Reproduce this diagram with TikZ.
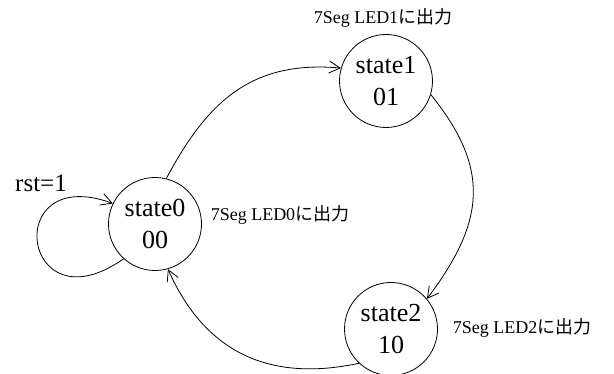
\documentclass[tikz,border=0pt]{standalone}
\usepackage{fontspec}
\setmainfont{Liberation Serif}
\newfontfamily\jp{Noto Sans CJK JP}
\usetikzlibrary{arrows.meta}
\begin{document}
\begin{tikzpicture}[x=1pt,y=1pt,
  statenode/.style={draw, circle, line width=0.8pt, minimum size=93pt, inner sep=0pt,
    align=center, font=\fontsize{26}{32}\selectfont},
  outlabel/.style={font=\fontsize{18}{20}\selectfont, inner sep=0pt},
  edge/.style={line width=0.8pt, -{Straight Barb[length=11pt,width=12pt,line width=0.8pt]}}]
\useasboundingbox (0,0) rectangle (614,374);
\node[statenode] (s0) at (155,150) {state0\\00};
\node[statenode] (s1) at (386,293) {state1\\01};
\node[statenode] (s2) at (391,45) {state2\\10};
\node[font=\fontsize{25}{30}\selectfont, inner sep=0pt] (rst) at (41,191) {rst=1};
\node[outlabel] (l0) at (280,159) {7Seg LED0{\jp に出力}};
\node[outlabel] (l1) at (383,356) {7Seg LED1{\jp に出力}};
\node[outlabel] (l2) at (522,46) {7Seg LED2{\jp に出力}};
\draw[edge] (s0.76) to[out=62, in=175, looseness=1.1] (s1.164);
\draw[edge] (s1.-17) to[out=-51, in=53, looseness=1.2] (s2.40);
\draw[edge] (s2.-133) to[out=192, in=-66, looseness=1.1] (s0.-74);
\draw[edge] (s0.-132) .. controls +(-145:125) and +(160:120) .. (s0.154);
\end{tikzpicture}
\end{document}
